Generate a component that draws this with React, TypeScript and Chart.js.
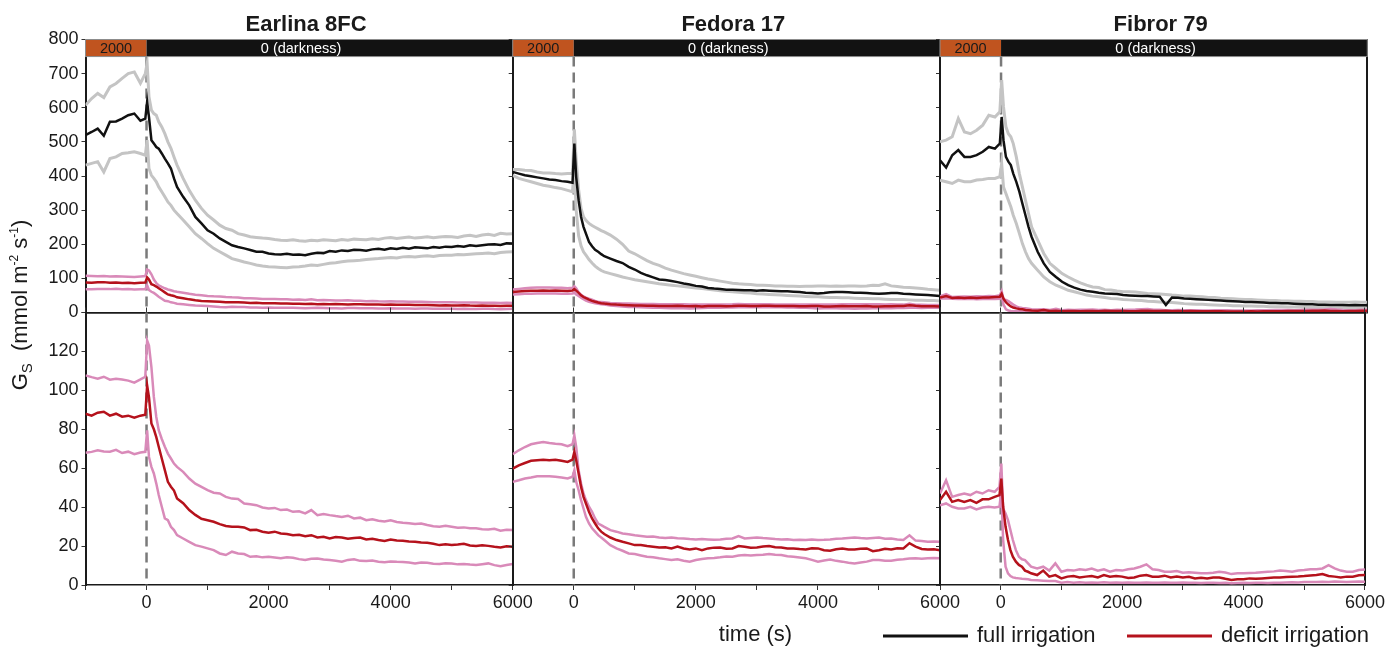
import React, { useEffect, useRef } from 'react';
import { Chart, registerables } from 'chart.js';

Chart.register(...registerables);

// ---------------- data ----------------
const TIME = [
  -1000, -900, -800, -700, -600, -500, -400, -300, -200, -100, -20,
  10, 40, 80, 120, 160, 200, 250, 300, 350, 400, 450, 500,
  600, 700, 800, 900, 1000, 1100, 1200, 1300, 1400, 1500,
  1600, 1700, 1800, 1900, 2000, 2100, 2200, 2300, 2400, 2500,
  2600, 2700, 2800, 2900, 3000, 3100, 3200, 3300, 3400, 3500,
  3600, 3700, 3800, 3900, 4000, 4100, 4200, 4300, 4400, 4500,
  4600, 4700, 4800, 4900, 5000, 5100, 5200, 5300, 5400, 5500,
  5600, 5700, 5800, 5900, 6000,
];

// Earlina 8FC
const EARLINA_FULL = [
  520, 529, 539, 518, 559, 560, 568, 578, 583, 562, 568,
  617, 573, 505, 495, 485, 480, 466, 451, 437, 422, 393, 368,
  339, 314, 280, 261, 241, 231, 217, 207, 197, 192,
  188, 183, 178, 178, 173, 171, 170, 172, 169, 170,
  168, 172, 175, 174, 180, 178, 182, 180, 184, 183,
  181, 185, 187, 184, 188, 186, 190, 187, 191, 190,
  188, 192, 190, 193, 192, 195, 193, 197, 195, 197,
  199, 200, 198, 203, 202,
];
const EARLINA_FULL_HI = [
  607, 627, 642, 630, 661, 671, 686, 700, 705, 672, 700,
  730, 632, 593, 583, 578, 559, 544, 524, 500, 481, 456, 432,
  393, 358, 329, 305, 285, 271, 256, 246, 241, 231,
  227, 222, 220, 218, 217, 214, 212, 211, 213, 210,
  209, 212, 210, 213, 212, 210, 214, 212, 215, 214,
  213, 216, 214, 218, 220, 217, 219, 221, 218, 220,
  222, 219, 221, 223, 222, 220, 224, 226, 223, 227,
  229, 226, 232, 230, 231,
];
const EARLINA_FULL_LO = [
  432, 437, 442, 412, 451, 456, 466, 468, 471, 466, 461,
  505, 422, 402, 393, 383, 368, 354, 339, 324, 314, 300, 290,
  271, 251, 231, 217, 202, 188, 178, 168, 158, 153,
  148, 144, 139, 136, 134, 133, 132, 131, 133, 134,
  136, 139, 138, 141, 144, 146, 149, 151, 152, 153,
  155, 157, 158, 160, 161, 160, 163, 164, 163, 165,
  166, 164, 167, 168, 168, 170, 169, 171, 172, 173,
  174, 172, 176, 177, 178,
];
const EARLINA_DEF = [
  88, 87, 88.5, 89, 87, 88, 86.5, 87, 86, 87, 87.5,
  102.5, 96.5, 83, 80, 76, 71, 65, 59, 53, 50.5, 48.5, 44.5,
  42, 38.5, 36, 34, 33.3, 32.5, 31.3, 30.3, 29.9, 29.9,
  29.6, 28.2, 28.4, 27.4, 26.8, 27.4, 26.5, 26.2, 25.6, 25.8,
  25.1, 25.6, 24.4, 24.8, 23.9, 24.6, 24.4, 23.8, 24.2, 24.4,
  23.4, 23.8, 23.1, 22.6, 23.4, 22.9, 22.7, 22.4, 22.2, 21.8,
  21.7, 21.2, 20.5, 20.9, 20.5, 20.8, 21.2, 20.3, 20, 20.4,
  20.1, 19.6, 19.3, 19.9, 19.7,
];
const EARLINA_DEF_HI = [
  107.7, 106.8, 106, 107, 105.5, 106, 105.6, 105, 104, 105.6, 107,
  125.6, 123, 112, 96.6, 86.3, 79.5, 75, 71, 67.5, 65, 62.4, 60.7,
  58.1, 54.7, 52.1, 50.4, 48.7, 47.4, 47, 45.3, 44.4, 44.2,
  41.9, 41.5, 41, 39.8, 39.3, 39.6, 38.5, 38.8, 37.6, 37.9,
  36.8, 38.5, 35.9, 36.5, 35.9, 35.4, 35, 35.6, 34.2, 34.6,
  33.3, 33.8, 33, 32.6, 33.3, 32.4, 32, 31.7, 31.3, 31.6,
  30.8, 30.2, 29.9, 30.4, 29.9, 29.4, 29.6, 29.1, 29.2, 28.7,
  28.5, 28.9, 27.9, 28.4, 28.2,
];
const EARLINA_DEF_LO = [
  67.9, 68.4, 69.2, 68.6, 68.5, 69.4, 67.8, 68.5, 67.2, 68.1, 68.4,
  79.5, 65.8, 60.7, 57.3, 52.1, 46.2, 40.2, 34.2, 33.3, 29.9, 28.2, 25.6,
  23.9, 22.2, 20.5, 19.7, 18.8, 17.9, 16.2, 15.4, 17.1, 16.2,
  15.9, 14.5, 14.8, 14.2, 14.5, 14.1, 13.7, 14.2, 14, 13.3,
  12.8, 13.5, 13.6, 13.1, 12.8, 12.5, 12, 12.9, 13.2, 12.4,
  12.3, 12.6, 12, 11.7, 12.1, 11.9, 11.8, 11.5, 11.1, 11.6,
  11.4, 10.9, 10.8, 11.2, 11.1, 10.6, 10.8, 10.5, 10.3, 10.7,
  11.1, 10.2, 9.7, 10.3, 10.8,
];

// Fedora 17
const FEDORA_FULL = [
  412, 407, 402, 399, 396, 393, 390, 388, 385, 383, 380,
  495, 397, 329, 280, 251, 231, 207, 194, 184, 178, 171, 165,
  158, 151, 145, 134, 126, 116, 109, 103, 97, 95,
  92, 89, 85, 82, 78, 76, 72, 70, 69, 67,
  67, 66, 65, 65, 64, 65, 64, 63, 62, 62,
  61, 60, 58, 57, 56, 57, 59, 60, 60, 59,
  58, 58, 57, 56, 55, 56, 57, 57, 55, 54,
  53, 52, 51, 50, 48,
];
const FEDORA_FULL_HI = [
  419, 419, 417, 416, 412, 409, 409, 407, 406, 407, 407,
  537, 446, 360, 305, 280, 270, 261, 255, 250, 245, 240, 236,
  227, 215, 200, 180, 172, 162, 152, 144, 138, 130,
  124, 119, 114, 110, 106, 102, 98, 95, 92, 89,
  86, 84, 83, 82, 80, 80, 79, 78, 78, 77,
  77, 76, 77, 77, 78, 78, 77, 78, 77, 78,
  78, 77, 78, 80, 79, 84, 78, 76, 74, 73,
  72, 70, 68, 67, 65,
];
const FEDORA_FULL_LO = [
  402, 393, 388, 383, 378, 373, 370, 366, 363, 358, 354,
  427, 300, 225, 195, 178, 168, 155, 145, 136, 129, 123, 119,
  114, 109, 104, 100, 96, 93, 90, 87, 84, 82,
  80, 78, 76, 74, 72, 70, 68, 66, 64, 62,
  61, 59, 58, 57, 55, 54, 53, 52, 51, 50,
  49, 48, 47, 46, 46, 45, 44, 44, 43, 43,
  42, 41, 41, 40, 40, 39, 38, 38, 38, 37,
  36, 36, 35, 35, 34,
];
const FEDORA_DEF = [
  59.8, 61.5, 62.7, 63.8, 64.1, 64.4, 64.1, 64.4, 63.8, 63.2, 64.4,
  68.4, 64.1, 57.3, 50.4, 45.3, 41.9, 37.6, 34.2, 31.6, 29.1, 27.4, 26.2,
  24.4, 23.1, 22.2, 21.4, 20.5, 20.6, 20, 19.7, 19.3, 19.4,
  18.8, 19.7, 18.8, 18.3, 18.8, 17.9, 18.8, 19.2, 19.3, 18.6,
  18.8, 20, 19.7, 19.2, 19.3, 19.8, 20, 19.4, 19.3, 18.8,
  18.8, 18.5, 18.3, 18.9, 18.8, 17.9, 17.6, 18.4, 18.8, 18.2,
  18.3, 18.6, 18.8, 17.4, 17.9, 18.6, 18.3, 18.9, 18.8, 21.5,
  19.7, 18.5, 18.3, 18.4, 17.9,
];
const FEDORA_DEF_HI = [
  67.2, 69.2, 70.9, 72.3, 73, 73.5, 73, 72.6, 72.3, 71.3, 72.3,
  76.9, 70.9, 59, 52.1, 47, 43.6, 40.2, 37.6, 34.2, 31.6, 30.8, 29.9,
  28.2, 27.4, 26.5, 26.1, 25.6, 25.2, 24.8, 24.9, 24.4, 24.2,
  24.4, 24, 23.9, 23.6, 23.4, 23.6, 23.4, 23.2, 23.4, 23.7,
  23.9, 25.1, 23.9, 24.2, 24.4, 24.1, 23.9, 23.6, 23.4, 23.5,
  23.1, 23.3, 23.1, 23.4, 23.1, 23.2, 23.4, 23.8, 23.9, 24.2,
  24.4, 24.1, 23.9, 24.2, 24.4, 23.8, 23.9, 23.4, 23.1, 25.5,
  22.8, 22.6, 22.2, 22.3, 22.2,
];
const FEDORA_DEF_LO = [
  53, 53.8, 54.7, 55.2, 55.9, 55.9, 55.9, 55.6, 55.2, 54.7, 55.6,
  59, 53, 48.7, 43.6, 39.3, 35, 31.6, 29.1, 27.4, 25.6, 24.4, 23.1,
  20.5, 18.8, 17.6, 16.2, 15.9, 15.2, 14.5, 14.2, 13.7, 13.3,
  12.8, 13.2, 12.5, 12, 12.8, 13.4, 13.7, 13.9, 14.2, 14.6,
  14.5, 15.1, 15.4, 15.2, 15.4, 15.6, 15.9, 15.5, 15.4, 14.8,
  14.5, 14.1, 13.7, 12.9, 12, 12.6, 13.1, 12.4, 12, 11.4,
  11.1, 11.6, 12, 12.8, 12.8, 12.5, 12.5, 13, 13.2, 13.6,
  13.7, 13.5, 13.7, 13.9, 13.7,
];

// Fibror 79
const FIBROR_FULL = [
  446, 425, 461, 476, 456, 456, 461, 471, 485, 480, 495,
  573, 505, 456, 442, 432, 407, 383, 354, 319, 285, 251, 222,
  178, 144, 119, 104, 90, 80, 73, 67, 63, 61,
  58, 56, 55, 54, 51, 50, 49, 48, 48, 47,
  46, 22, 44, 43, 41, 40, 39, 38, 37, 36,
  35, 34, 33, 32, 31, 31, 30, 29, 28, 28,
  27, 27, 26, 25, 24, 24, 23, 23, 22, 22,
  22, 21, 22, 21, 21,
];
const FIBROR_FULL_HI = [
  500, 505, 515, 568, 529, 524, 534, 549, 578, 573, 588,
  681, 603, 544, 524, 515, 495, 456, 407, 368, 329, 290, 251,
  212, 173, 144, 129, 114, 104, 95, 87, 80, 75,
  73, 67, 66, 63, 61, 61, 60, 58, 56, 55,
  54, 53, 51, 50, 48, 48, 47, 46, 44, 44,
  42, 41, 40, 39, 38, 38, 37, 36, 35, 35,
  34, 34, 33, 33, 32, 32, 31, 31, 31, 30,
  30, 30, 31, 30, 30,
];
const FIBROR_FULL_LO = [
  388, 383, 378, 388, 383, 383, 388, 390, 393, 393, 398,
  437, 368, 349, 329, 310, 285, 261, 232, 202, 178, 158, 144,
  124, 104, 90, 80, 73, 65, 61, 56, 51, 48,
  46, 44, 41, 40, 38, 37, 36, 35, 33, 32,
  31, 30, 29, 28, 26, 25, 24, 24, 23, 22,
  21, 21, 20, 20, 19, 19, 18, 18, 17, 17,
  17, 16, 16, 16, 15, 15, 15, 15, 14, 14,
  15, 14, 14, 14, 14,
];
const FIBROR_DEF = [
  43.6, 47.9, 42.7, 43.6, 42.7, 43.6, 42.2, 44, 44, 45.3, 46.2,
  54.7, 40.2, 29.9, 23.1, 17.9, 14.5, 12, 10.3, 9.4, 7.4, 6.8, 6,
  5.1, 7.4, 4.3, 5.1, 3.4, 4.3, 4.6, 3.9, 4.3, 4.6,
  3.9, 5.1, 4.3, 4.6, 4.3, 3.6, 3.9, 4.8, 5.1, 4.2,
  4.3, 4.8, 3.9, 4.4, 3.9, 4.2, 3.4, 3.7, 3.4, 3.9,
  3.9, 3.2, 2.6, 3, 2.9, 3.4, 3.2, 3.4, 3.6, 3.8,
  3.9, 4.1, 4.3, 4.4, 4.6, 4.9, 5.1, 5.6, 4.6, 4.3,
  3.9, 4.3, 4.3, 5, 5.1,
];
const FIBROR_DEF_HI = [
  47, 53.8, 45.3, 46.2, 47, 46.2, 47.9, 47, 48.7, 47.9, 50.4,
  62.4, 39.3, 36.8, 33.3, 28.2, 23.1, 17.9, 14.5, 13.2, 12.8, 11.1, 9.4,
  8.5, 9.4, 7.4, 11.1, 6.8, 7.7, 7.4, 8.1, 7.7, 8.5,
  7.4, 8.1, 6.8, 7.7, 7.4, 8.1, 8.5, 9.4, 10.6, 8.1,
  7.7, 6.8, 6.8, 7.2, 6.3, 6.5, 6.3, 6, 6, 6.3,
  6.8, 6.4, 5.6, 6, 6, 6.2, 6.3, 6.6, 6.8, 7,
  7.4, 7.2, 6.8, 7.4, 7.7, 8.1, 8.1, 8.5, 10.2, 8.5,
  7.4, 6.8, 6.8, 7.7, 8,
];
const FIBROR_DEF_LO = [
  41, 41.9, 40.2, 39.3, 39.3, 40.2, 38.8, 39.8, 40.2, 39.8, 40.2,
  48.7, 23.1, 9.4, 6, 4.6, 3.9, 3.6, 3.4, 3.2, 3.1, 2.9, 2.6,
  2.4, 2.2, 2, 2, 1.2, 1.5, 1.2, 1.4, 1.2, 1.3,
  1.2, 1.4, 1.1, 1.3, 1.2, 1.3, 1.1, 1.2, 1.3, 1.2,
  1.2, 1.3, 1.1, 1.2, 1.3, 1.1, 1.2, 1, 1.2, 1.1,
  1, 1.1, 0.9, 1, 1.1, 1, 1.1, 1.2, 1, 1.1,
  1.2, 1.3, 1.4, 1.3, 1.5, 1.6, 1.5, 1.7, 1.6, 1.8,
  1.7, 1.6, 1.7, 1.8, 1.7,
];

const CULTIVARS = ['Earlina 8FC', 'Fedora 17', 'Fibror 79'];
const FULL_MEAN = [EARLINA_FULL, FEDORA_FULL, FIBROR_FULL];
const FULL_HI = [EARLINA_FULL_HI, FEDORA_FULL_HI, FIBROR_FULL_HI];
const FULL_LO = [EARLINA_FULL_LO, FEDORA_FULL_LO, FIBROR_FULL_LO];
const DEF_MEAN = [EARLINA_DEF, FEDORA_DEF, FIBROR_DEF];
const DEF_HI = [EARLINA_DEF_HI, FEDORA_DEF_HI, FIBROR_DEF_HI];
const DEF_LO = [EARLINA_DEF_LO, FEDORA_DEF_LO, FIBROR_DEF_LO];

const LIGHT_START = [-1000, 0];
const LIGHT_END = [0, 6000];
const LIGHT_TEXT = ['2000', '0 (darkness)'];
const LIGHT_BAND = [750, 800];
const X_TICK_LABELS = [0, 2000, 4000, 6000];
const LEGEND_LABELS = ['full irrigation', 'deficit irrigation'];
const X_TITLE = 'time (s)';

// ---------------- layout / style ----------------
const W = 1387;
const H = 647;
const COL_EDGES = [85.5, 512.7, 940, 1367.3];
const ROW_EDGES = [39.5, 312.5, 585];
const FONT = '"Liberation Sans", Arial, Helvetica, sans-serif';
const TEXT = '#1a1a1a';
const AXIS = '#1a1a1a';
const BLACK = '#111111';
const GRAY = '#c4c4c4';
const RED = '#b5121c';
const PINK = '#d98ab9';
const ORANGE = '#c0541f';
const BAR_BLACK = '#121212';
const DASH = '#7a7a7a';

Chart.defaults.font.family = FONT;

const PANELS = [
  { r: 0, c: 0 }, { r: 0, c: 1 }, { r: 0, c: 2 },
  { r: 1, c: 0 }, { r: 1, c: 1 }, { r: 1, c: 2 },
];

function drawFigureText(ctx: CanvasRenderingContext2D) {
  // y axis title
  const big = '22px ' + FONT;
  const sub = '15px ' + FONT;
  const sup = '12px ' + FONT;
  const parts = [
    { t: 'G', f: big, dy: 0 },
    { t: 'S', f: sub, dy: 5 },
    { t: '  (mmol m', f: big, dy: 0 },
    { t: '-2', f: sup, dy: -9 },
    { t: ' s', f: big, dy: 0 },
    { t: '-1', f: sup, dy: -9 },
    { t: ')', f: big, dy: 0 },
  ];
  ctx.save();
  ctx.translate(27, 305);
  ctx.rotate(-Math.PI / 2);
  let total = 0;
  parts.forEach((p) => { ctx.font = p.f; total += ctx.measureText(p.t).width; });
  let x = -total / 2;
  ctx.fillStyle = TEXT;
  ctx.textAlign = 'left';
  ctx.textBaseline = 'alphabetic';
  parts.forEach((p) => { ctx.font = p.f; ctx.fillText(p.t, x, p.dy); x += ctx.measureText(p.t).width; });
  ctx.restore();

  // x axis title
  ctx.save();
  ctx.font = big;
  ctx.fillStyle = TEXT;
  ctx.textAlign = 'center';
  ctx.textBaseline = 'alphabetic';
  ctx.fillText(X_TITLE, 755.5, 641);

  // legend
  const items = [
    { x: 883, color: BLACK, label: LEGEND_LABELS[0] },
    { x: 1127, color: RED, label: LEGEND_LABELS[1] },
  ];
  items.forEach((it) => {
    ctx.strokeStyle = it.color;
    ctx.lineWidth = 3;
    ctx.beginPath();
    ctx.moveTo(it.x, 636);
    ctx.lineTo(it.x + 85, 636);
    ctx.stroke();
    ctx.textAlign = 'left';
    ctx.fillText(it.label, it.x + 94, 642);
  });
  ctx.restore();
}

function makeConfig(r: number, c: number): any {
  const pts = (arr: number[]) => TIME.map((t, i) => ({ x: t, y: arr[i] }));
  const line = (label: string, arr: number[], color: string, width: number) => ({
    label, data: pts(arr), borderColor: color, backgroundColor: color,
    borderWidth: width, pointRadius: 0, tension: 0, fill: false,
  });
  const datasets: any[] = [
    line('deficit irrigation', DEF_MEAN[c], RED, 2.5),
    line('deficit upper', DEF_HI[c], PINK, 2.5),
    line('deficit lower', DEF_LO[c], PINK, 2.5),
  ];
  if (r === 0) {
    datasets.push(
      line('full irrigation', FULL_MEAN[c], BLACK, 2.5),
      line('full upper', FULL_HI[c], GRAY, 3),
      line('full lower', FULL_LO[c], GRAY, 3),
    );
  }
  const yW = c === 0 ? 50 : 6;
  const xH = r === 1 ? 30 : 0;
  const x2H = r === 1 ? 6 : 0;
  const yMax = r === 0 ? 800 : 140;
  const yStep = r === 0 ? 100 : 20;

  const decor = {
    id: 'decor' + r + c,
    beforeDatasetsDraw(chart: any) {
      const { ctx, chartArea, scales } = chart;
      const x0 = scales.x.getPixelForValue(0);
      const top = r === 0 ? scales.y.getPixelForValue(LIGHT_BAND[0]) : chartArea.top;
      ctx.save();
      ctx.strokeStyle = DASH;
      ctx.lineWidth = 2.5;
      ctx.setLineDash([10, 6]);
      ctx.beginPath();
      ctx.moveTo(x0, top);
      ctx.lineTo(x0, chartArea.bottom);
      ctx.stroke();
      ctx.restore();
    },
    afterDraw(chart: any) {
      const { ctx, chartArea, scales } = chart;
      if (r === 0) {
        const ya = scales.y.getPixelForValue(LIGHT_BAND[1]);
        const yb = scales.y.getPixelForValue(LIGHT_BAND[0]);
        ctx.save();
        LIGHT_START.forEach((s, i) => {
          const xa = scales.x.getPixelForValue(s);
          const xb = scales.x.getPixelForValue(LIGHT_END[i]);
          ctx.fillStyle = i === 0 ? ORANGE : BAR_BLACK;
          ctx.fillRect(xa, ya, xb - xa, yb - ya);
        });
        ctx.strokeStyle = '#8c8c8c';
        ctx.lineWidth = 1;
        ctx.strokeRect(chartArea.left, ya, chartArea.right - chartArea.left, yb - ya);
        ctx.font = '14.5px ' + FONT;
        ctx.textAlign = 'center';
        ctx.textBaseline = 'middle';
        const ym = (ya + yb) / 2 + 1;
        const xo0 = (scales.x.getPixelForValue(LIGHT_START[0]) + scales.x.getPixelForValue(LIGHT_END[0])) / 2;
        ctx.fillStyle = '#1a1a1a';
        ctx.fillText(LIGHT_TEXT[0], xo0, ym);
        ctx.fillStyle = '#ffffff';
        ctx.fillText(LIGHT_TEXT[1], (chartArea.left + chartArea.right) / 2 + 2, ym);
        // panel title
        ctx.font = 'bold 22px ' + FONT;
        ctx.fillStyle = TEXT;
        ctx.textBaseline = 'alphabetic';
        ctx.fillText(CULTIVARS[c], (chartArea.left + chartArea.right) / 2 + 7, 31);
        ctx.restore();
      }
      if (r === 1 && c === 0) drawFigureText(ctx);
    },
  };

  const scales: any = {
    x: {
      type: 'linear', position: 'bottom', min: -1000, max: 6000,
      afterFit: (s: any) => { s.height = xH; },
      border: { display: true, color: AXIS, width: 1.5 },
      grid: { display: r === 1, drawOnChartArea: false, drawTicks: true, tickLength: 5, color: '#333', lineWidth: 1 },
      ticks: {
        display: r === 1, stepSize: 1000, autoSkip: false, maxRotation: 0, minRotation: 0,
        padding: 2, color: TEXT, font: { size: 18, family: FONT },
        callback: (v: number) => (X_TICK_LABELS.includes(v) ? String(v) : ''),
      },
    },
    y: {
      type: 'linear', position: 'left', min: 0, max: yMax,
      afterFit: (s: any) => { s.width = yW; },
      border: { display: true, color: AXIS, width: 2 },
      grid: { drawOnChartArea: false, drawTicks: true, tickLength: 4, color: '#333', lineWidth: 1 },
      ticks: {
        display: c === 0, stepSize: yStep, padding: 3, color: TEXT, font: { size: 18, family: FONT },
        callback: (v: number) => (r === 1 && v === 140 ? '' : String(v)),
      },
    },
    y2: {
      type: 'linear', position: 'right', min: 0, max: yMax, axis: 'y',
      afterFit: (s: any) => { s.width = 0; },
      border: { display: true, color: AXIS, width: 2 },
      grid: { display: false, drawTicks: false },
      ticks: { display: false },
    },
  };
  if (r === 1) {
    scales.x2 = {
      type: 'linear', position: 'top', min: -1000, max: 6000, axis: 'x',
      afterFit: (s: any) => { s.height = x2H; },
      border: { display: true, color: AXIS, width: 1.5 },
      grid: { display: true, drawOnChartArea: false, drawTicks: true, tickLength: 5, color: '#333', lineWidth: 1 },
      ticks: { display: false, stepSize: 1000 },
    };
  }

  return {
    type: 'line',
    data: { datasets },
    options: {
      responsive: false,
      maintainAspectRatio: false,
      animation: false,
      events: [],
      parsing: true,
      layout: {
        padding: {
          left: COL_EDGES[c] - yW,
          right: W - COL_EDGES[c + 1],
          top: ROW_EDGES[r] - x2H,
          bottom: H - ROW_EDGES[r + 1] - xH,
        },
      },
      plugins: { legend: { display: false }, tooltip: { enabled: false }, title: { display: false } },
      scales,
    },
    plugins: [decor],
  };
}

export default function App() {
  const refs = useRef<(HTMLCanvasElement | null)[]>([]);
  useEffect(() => {
    const charts: Chart[] = [];
    PANELS.forEach((p, k) => {
      const cv = refs.current[k];
      if (cv) charts.push(new Chart(cv, makeConfig(p.r, p.c)));
    });
    return () => { charts.forEach((ch) => ch.destroy()); };
  }, []);
  return (
    <div style={{ position: 'absolute', left: 0, top: 0, width: W, height: H, background: '#ffffff' }}>
      {PANELS.map((p, k) => (
        <canvas
          key={k}
          ref={(el) => { refs.current[k] = el; }}
          width={W}
          height={H}
          style={{ position: 'absolute', left: 0, top: 0, width: W, height: H }}
        />
      ))}
    </div>
  );
}
